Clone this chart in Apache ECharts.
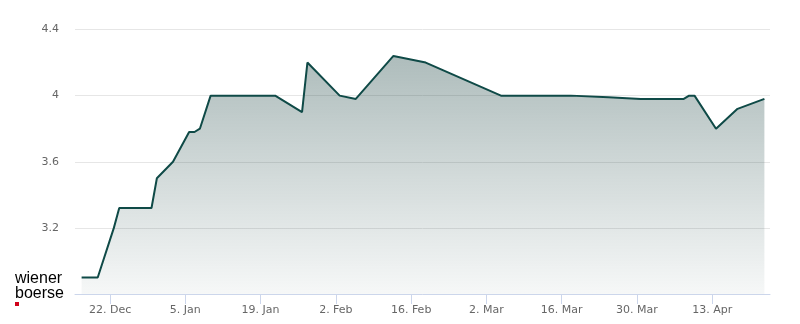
<!DOCTYPE html>
<html>
<head>
<meta charset="utf-8">
<script src="https://cdn.jsdelivr.net/npm/echarts@6/dist/echarts.min.js"></script>
<style>
html,body{margin:0;padding:0;background:#fff;}
#chart{width:800px;height:324px;}
</style>
</head>
<body>
<div id="chart"></div>
<script>
// Closing-price observations (date, close time 17:00)
const dates = ['2025-12-16','2025-12-19','2025-12-22','2025-12-23','2025-12-29','2025-12-30',
  '2026-01-02','2026-01-05','2026-01-06','2026-01-07','2026-01-09','2026-01-21','2026-01-26',
  '2026-01-27','2026-02-02','2026-02-05','2026-02-12','2026-02-18','2026-03-04','2026-03-17',
  '2026-03-24','2026-03-30','2026-04-07','2026-04-08','2026-04-09','2026-04-13','2026-04-17','2026-04-22'];
const prices = [2.9,2.9,3.2,3.32,3.32,3.5,
  3.6,3.78,3.78,3.8,4.0,4.0,3.9,
  4.2,4.0,3.98,4.24,4.2,4.0,4.0,
  3.99,3.98,3.98,4.0,4.0,3.8,3.92,3.98];
const tickDates = ['2025-12-22','2026-01-05','2026-01-19','2026-02-02','2026-02-16','2026-03-02','2026-03-16','2026-03-30','2026-04-13'];
const tickLabels = ['22. Dec','5. Jan','19. Jan','2. Feb','16. Feb','2. Mar','16. Mar','30. Mar','13. Apr'];
const closeTimeFraction = 17/24;

const DAY = 86400000;
const ref = Date.UTC(2025,11,22);
function dayNum(s){ const p=s.split('-').map(Number); return (Date.UTC(p[0],p[1]-1,p[2])-ref)/DAY; }
const data = dates.map((d,i)=>[dayNum(d)+closeTimeFraction, prices[i]]);
const tickVals = tickDates.map(dayNum);
const labelMap = {}; tickVals.forEach((v,i)=>labelMap[v]=tickLabels[i]);

const chart = echarts.init(document.getElementById('chart'), null, {renderer:'canvas'});
chart.setOption({
  animation:false,
  grid:{left:75,right:30,top:29.5,bottom:30,containLabel:false},
  xAxis:{
    type:'value', min:-6.52, max:122.75,
    axisLine:{show:true,lineStyle:{color:'#ccd6eb',width:1}},
    axisTick:{show:true,length:10,customValues:tickVals,lineStyle:{color:'#ccd6eb'}},
    axisLabel:{customValues:tickVals,color:'#666',fontSize:11,fontFamily:'DejaVu Sans',margin:11,
      formatter:v=>labelMap[Math.round(v)]||''},
    splitLine:{show:false}
  },
  yAxis:{
    type:'value', min:2.8, max:4.4, interval:0.4,
    axisLine:{show:false}, axisTick:{show:false},
    axisLabel:{color:'#666',fontSize:11,fontFamily:'DejaVu Sans',margin:16,padding:[3,0,0,0],
      formatter:v=> v<2.9 ? '' : String(+v.toFixed(1))},
    splitLine:{lineStyle:{color:'#e6e6e6',width:1}}
  },
  series:[{
    type:'line', data:data, symbol:'none', smooth:false,
    lineStyle:{color:'#0f4a47',width:2},
    areaStyle:{opacity:1,color:new echarts.graphic.LinearGradient(0,0,0,1,[
      {offset:0,color:'rgba(30,70,68,0.36)'},
      {offset:1,color:'rgba(30,70,68,0.04)'}])}
  }],
  graphic:[
    {type:'text',left:15,top:271,style:{text:'wiener',font:'16px "Liberation Sans", Arial, sans-serif',fill:'#000'}},
    {type:'text',left:15,top:285.5,style:{text:'boerse',font:'16px "Liberation Sans", Arial, sans-serif',fill:'#000'}},
    {type:'rect',shape:{x:15,y:302,width:4,height:4},style:{fill:'#d0021b'}}
  ]
});
</script>
</body>
</html>
